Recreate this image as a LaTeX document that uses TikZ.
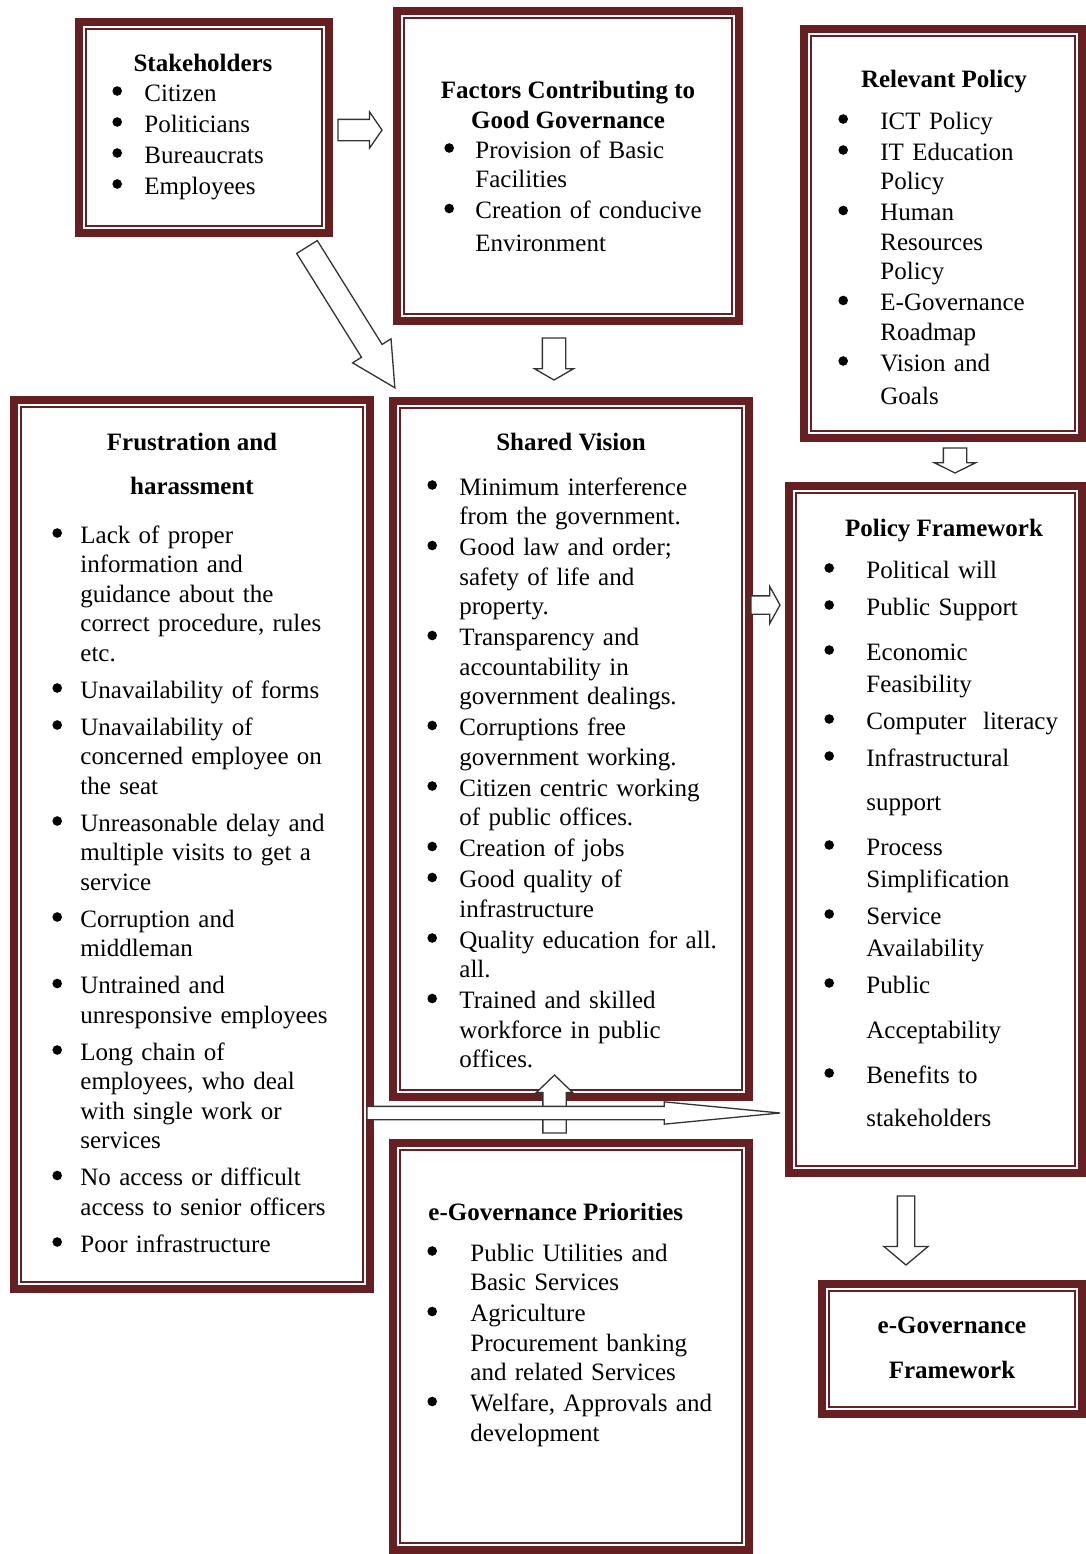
\documentclass[tikz,border=0pt]{standalone}
\usepackage{fontspec}
\setmainfont{Liberation Serif}
\usepackage{enumitem}
\usetikzlibrary{shapes.arrows,calc}
\definecolor{boxred}{RGB}{102,32,34}
\newlength\px
\setlength\px{0.5pt}
\newcommand{\boxfont}{\fontsize{12.5}{14.75}\selectfont}
\newcommand{\bigdot}{\tikz[baseline=-5pt]\fill (0,0) circle (2.4pt);}
\newlist{points}{itemize}{1}
\setlist[points]{label=\bigdot,leftmargin=31\px,labelindent=0pt,labelwidth=10\px,labelsep=*,align=left,topsep=0pt,partopsep=0pt,parsep=0pt,itemsep=1.5\px}
\newcommand{\blockarrow}[3][]{%
  \path let \p1=($(#3)-(#2)$), \n1={veclen(\x1,\y1)} in
    (#2) -- node[blkarrow,sloped,allow upside down,pos=0,anchor=tail,minimum height=\n1,#1] {} (#3);}

\begin{document}
\begin{tikzpicture}
[
x=0.5pt,y=-0.5pt,
frame/.style={draw=boxred,line width=8\px,fill=white,inner sep=0pt,outer sep=0pt,
  path picture={\draw[boxred,line width=2.4\px]
    ($(path picture bounding box.north west)+(7,7)$) rectangle
    ($(path picture bounding box.south east)+(-7,-7)$);}},
head/.style={inner sep=0pt,anchor=base,font=\boxfont\bfseries,align=center},
items/.style={inner sep=0pt,anchor=base west,text width=300\px,align=left,font=\boxfont},
blkarrow/.style={single arrow,draw=black!80,fill=white,line width=1.3\px,
  inner xsep=0pt,outer sep=0pt,single arrow head indent=0pt},
]
\useasboundingbox (0,0) rectangle (1086,1554);

%Place the boxes
\node[frame,minimum width=250\px,minimum height=211\px] (stake) at (204,127.5) {};
\node[frame,minimum width=342\px,minimum height=310\px] (factors) at (568,166) {};
\node[frame,minimum width=278\px,minimum height=409\px] (relpol) at (943,233.5) {};
\node[frame,minimum width=356\px,minimum height=889\px] (frust) at (192,844.5) {};
\node[frame,minimum width=356\px,minimum height=696\px] (vision) at (571,749) {};
\node[frame,minimum width=293\px,minimum height=687\px] (polfw) at (935.5,829.5) {};
\node[frame,minimum width=356\px,minimum height=407\px] (prio) at (571,1346.5) {};
\node[frame,minimum width=260\px,minimum height=130\px] (egovfw) at (952,1349) {};

%Box texts
\node[head] (stake-h) at (203,71) {Stakeholders};
\node[items] (stake-l) at (112,71.5) {\begin{points}[leftmargin=32\px]
  \item Citizen
  \item Politicians
  \item Bureaucrats
  \item Employees
\end{points}};

\node[head] (factors-h) at (568,128) {Factors Contributing to\\Good Governance};
\node[items] (factors-l) at (444,128.5) {\begin{points}[leftmargin=31\px]
  \item Provision of Basic\\Facilities
  \item Creation of conducive\\[3.5\px]Environment
\end{points}};

\node[head] (relpol-h) at (944,87) {Relevant Policy};
\node[items] (relpol-l) at (838,99.5) {\begin{points}[leftmargin=42\px]
  \item ICT Policy
  \item IT Education\\Policy
  \item Human\\Resources\\Policy
  \item E-Governance\\Roadmap
  \item Vision and\\[3.5\px]Goals
\end{points}};

\node[head] (frust-h) at (192,494) {Frustration and\\[14.5\px]harassment};
\node[items] (frust-l) at (52,513.5) {\begin{points}[leftmargin=28\px,itemsep=7.5\px]
  \item Lack of proper\\information and\\guidance about the\\correct procedure, rules\\etc.
  \item Unavailability of forms
  \item Unavailability of\\concerned employee on\\the seat
  \item Unreasonable delay and\\multiple visits to get a\\service
  \item Corruption and\\middleman
  \item Untrained and\\unresponsive employees
  \item Long chain of\\employees, who deal\\with single work or\\services
  \item No access or difficult\\access to senior officers
  \item Poor infrastructure
\end{points}};

\node[head] (vision-h) at (571,450) {Shared Vision};
\node[items] (vision-l) at (427,465.5) {\begin{points}[leftmargin=32\px]
  \item Minimum interference\\from the government.
  \item Good law and order;\\safety of life and\\property.
  \item Transparency and\\accountability in\\government dealings.
  \item Corruptions free\\government working.
  \item Citizen centric working\\of public offices.
  \item Creation of jobs
  \item Good quality of\\infrastructure
  \item Quality education for all.\\all.
  \item Trained and skilled\\workforce in public\\offices.
\end{points}};

\node[head] (polfw-h) at (944,536) {Policy Framework};
\node[items] (polfw-l) at (824,546) {\fontsize{12.5}{16}\selectfont\begin{points}[leftmargin=42\px,itemsep=5\px]
  \item Political will
  \item Public Support
  \vspace{8\px}
  \item Economic\\Feasibility
  \item Computer\ \ literacy
  \item Infrastructural\\[12\px]support
  \vspace{8\px}
  \item Process\\Simplification
  \item Service\\Availability
  \item Public\\[13\px]Acceptability
  \vspace{8\px}
  \item Benefits to\\[11\px]stakeholders
\end{points}};

\node[head,anchor=base west] (prio-h) at (428,1220) {e-Governance Priorities};
\node[items] (prio-l) at (427,1231.5) {\begin{points}[leftmargin=43\px]
  \item Public Utilities and\\Basic Services
  \item Agriculture\\Procurement banking\\and related Services
  \item Welfare, Approvals and\\development
\end{points}};

\node[head] (egovfw-h) at (952,1378) {e-Governance\\[15.5\px]Framework};

%Arrow ends
\coordinate (s2f-a) at (338,130);
\coordinate (s2f-b) at (382,130);
\coordinate (s2v-a) at (307,247);
\coordinate (s2v-b) at (395,388);
\coordinate (f2v-a) at (554,338);
\coordinate (f2v-b) at (554,380);
\coordinate (r2p-a) at (955,448);
\coordinate (r2p-b) at (955,473);
\coordinate (v2p-a) at (751,605);
\coordinate (v2p-b) at (780,605);
\coordinate (p2v-a) at (554.5,1133);
\coordinate (p2v-b) at (554.5,1075);
\coordinate (h2p-a) at (367,1113);
\coordinate (h2p-b) at (780,1113);
\coordinate (p2e-a) at (906,1196);
\coordinate (p2e-b) at (906,1265);

%Draw the block arrows
\blockarrow[inner ysep=10\px,minimum width=35\px,single arrow head extend=7.5\px,single arrow tip angle=111]{s2f-a}{s2f-b}
\blockarrow[inner ysep=11.5\px,minimum width=44\px,single arrow head extend=10.5\px,single arrow tip angle=55]{s2v-a}{s2v-b}
\blockarrow[inner ysep=11\px,minimum width=38\px,single arrow head extend=8\px,single arrow tip angle=120]{f2v-a}{f2v-b}
\blockarrow[inner ysep=11\px,minimum width=40\px,single arrow head extend=9\px,single arrow tip angle=127]{r2p-a}{r2p-b}
\blockarrow[inner ysep=8.5\px,minimum width=36\px,single arrow head extend=9.5\px,single arrow tip angle=122]{v2p-a}{v2p-b}
\blockarrow[inner ysep=11\px,minimum width=35\px,single arrow head extend=6.5\px,single arrow tip angle=92]{p2v-a}{p2v-b}
\blockarrow[inner ysep=6\px,minimum width=21\px,single arrow head extend=4.5\px,single arrow tip angle=11]{h2p-a}{h2p-b}
\blockarrow[inner ysep=8\px,minimum width=43\px,single arrow head extend=13.5\px,single arrow tip angle=100]{p2e-a}{p2e-b}
\end{tikzpicture}
\end{document}
